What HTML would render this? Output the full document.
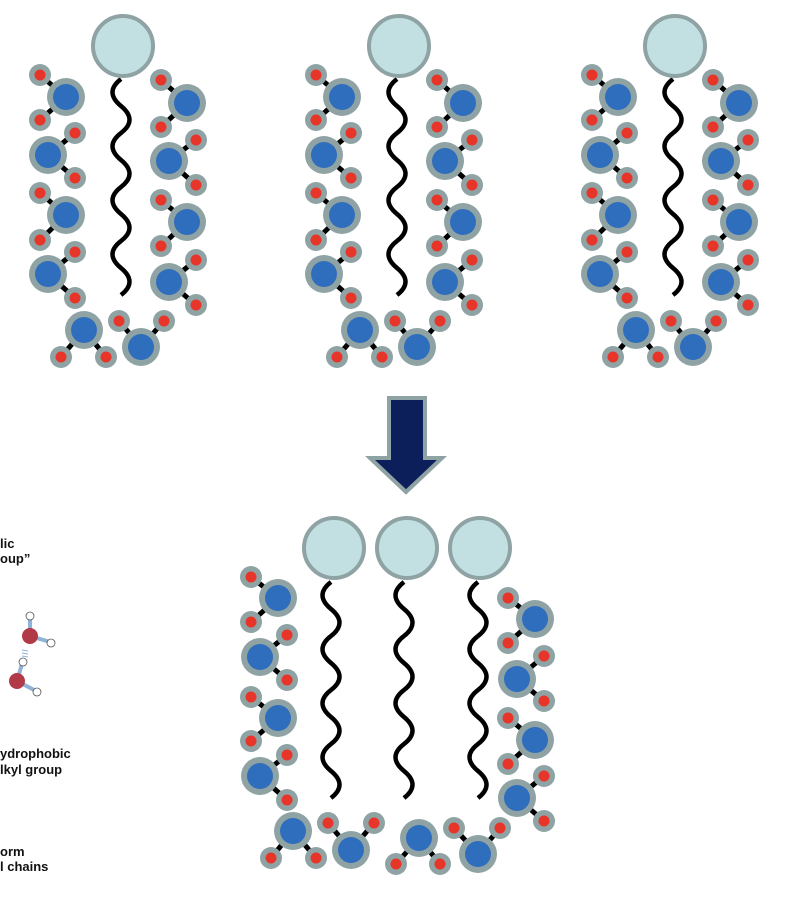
<!DOCTYPE html>
<html><head><meta charset="utf-8"><style>html,body{margin:0;padding:0;background:#fff}svg{display:block}text{font-family:"Liberation Sans",sans-serif;font-weight:bold;font-size:13px;fill:#111}</style></head>
<body>
<svg width="794" height="900" viewBox="0 0 794 900" xmlns="http://www.w3.org/2000/svg">
<defs>
<g id="o"><circle r="19" fill="#8fa3a4"/><circle r="13" fill="#2f6dbd"/></g>
<g id="h"><circle r="11" fill="#8fa3a4"/><circle r="5.5" fill="#e8352a"/></g>
<g id="head"><circle r="30" fill="#c2e0e2" stroke="#8fa3a4" stroke-width="4"/></g>
<path id="tail" d="M0,0 q-17,13 0,27 t0,27 t0,27 t0,27 t0,27 t0,27 t0,27 t0,27" fill="none" stroke="#000" stroke-width="4.5"/>
<g id="grp">
<g stroke="#000" stroke-width="5">
<path d="M66,97L40,75M66,97L40,120M48,155L75,133M48,155L75,178M66,215L40,193M66,215L40,240M48,274L75,252M48,274L75,298M187,103L161,80M187,103L161,127M169,161L196,140M169,161L196,185M187,222L161,200M187,222L161,246M169,282L196,260M169,282L196,305M84,330L61,357M84,330L106,357M141,347L119,321M141,347L164,321"/>
</g>
<use href="#o" x="66" y="97"/><use href="#h" x="40" y="75"/><use href="#h" x="40" y="120"/>
<use href="#o" x="48" y="155"/><use href="#h" x="75" y="133"/><use href="#h" x="75" y="178"/>
<use href="#o" x="66" y="215"/><use href="#h" x="40" y="193"/><use href="#h" x="40" y="240"/>
<use href="#o" x="48" y="274"/><use href="#h" x="75" y="252"/><use href="#h" x="75" y="298"/>
<use href="#o" x="187" y="103"/><use href="#h" x="161" y="80"/><use href="#h" x="161" y="127"/>
<use href="#o" x="169" y="161"/><use href="#h" x="196" y="140"/><use href="#h" x="196" y="185"/>
<use href="#o" x="187" y="222"/><use href="#h" x="161" y="200"/><use href="#h" x="161" y="246"/>
<use href="#o" x="169" y="282"/><use href="#h" x="196" y="260"/><use href="#h" x="196" y="305"/>
<use href="#o" x="84" y="330"/><use href="#h" x="61" y="357"/><use href="#h" x="106" y="357"/>
<use href="#o" x="141" y="347"/><use href="#h" x="119" y="321"/><use href="#h" x="164" y="321"/>
<use href="#tail" x="121" y="79"/>
<use href="#head" x="123" y="46"/>
</g>
</defs>

<use href="#grp" x="0" y="0"/>
<use href="#grp" x="276" y="0"/>
<use href="#grp" x="552" y="0"/>

<path d="M389,398 H425 V458 H442 L406,492 L370,458 H389 Z" fill="#0d1f5b" stroke="#8fa3a4" stroke-width="4" stroke-linejoin="miter"/>

<g stroke="#000" stroke-width="5">
<path d="M278,598L251,577M278,598L251,622M260,657L287,635M260,657L287,680M278,718L251,697M278,718L251,741M260,776L287,755M260,776L287,800M535,619L508,598M535,619L508,643M517,679L544,656M517,679L544,701M535,740L508,718M535,740L508,764M517,798L544,776M517,798L544,821M293,831L271,858M293,831L316,858M351,850L328,823M351,850L374,823M419,838L396,864M419,838L440,864M478,854L454,828M478,854L500,828"/>
</g>
<use href="#o" x="278" y="598"/><use href="#h" x="251" y="577"/><use href="#h" x="251" y="622"/>
<use href="#o" x="260" y="657"/><use href="#h" x="287" y="635"/><use href="#h" x="287" y="680"/>
<use href="#o" x="278" y="718"/><use href="#h" x="251" y="697"/><use href="#h" x="251" y="741"/>
<use href="#o" x="260" y="776"/><use href="#h" x="287" y="755"/><use href="#h" x="287" y="800"/>
<use href="#o" x="535" y="619"/><use href="#h" x="508" y="598"/><use href="#h" x="508" y="643"/>
<use href="#o" x="517" y="679"/><use href="#h" x="544" y="656"/><use href="#h" x="544" y="701"/>
<use href="#o" x="535" y="740"/><use href="#h" x="508" y="718"/><use href="#h" x="508" y="764"/>
<use href="#o" x="517" y="798"/><use href="#h" x="544" y="776"/><use href="#h" x="544" y="821"/>
<use href="#o" x="293" y="831"/><use href="#h" x="271" y="858"/><use href="#h" x="316" y="858"/>
<use href="#o" x="351" y="850"/><use href="#h" x="328" y="823"/><use href="#h" x="374" y="823"/>
<use href="#o" x="419" y="838"/><use href="#h" x="396" y="864"/><use href="#h" x="440" y="864"/>
<use href="#o" x="478" y="854"/><use href="#h" x="454" y="828"/><use href="#h" x="500" y="828"/>
<use href="#tail" x="331" y="582"/>
<use href="#tail" x="404" y="582"/>
<use href="#tail" x="478" y="582"/>
<use href="#head" x="334" y="548"/>
<use href="#head" x="407" y="548"/>
<use href="#head" x="480" y="548"/>

<text x="0" y="548">lic</text>
<text x="0" y="563">oup”</text>
<text x="0" y="758">ydrophobic</text>
<text x="0" y="774">lkyl group</text>
<text x="0" y="856">orm</text>
<text x="0" y="871">l chains</text>

<g stroke="#8fb4d8" stroke-width="4">
<line x1="30" y1="618" x2="30" y2="636"/><line x1="30" y1="636" x2="50" y2="642"/>
<line x1="22" y1="664" x2="17" y2="681"/><line x1="17" y1="681" x2="36" y2="691"/>
</g>
<g fill="#fff" stroke="#555" stroke-width="0.8">
<circle cx="30" cy="616" r="4"/><circle cx="51" cy="643" r="4"/>
<circle cx="23" cy="662" r="4"/><circle cx="37" cy="692" r="4"/>
</g>
<g stroke="#8fb4d8" stroke-width="1"><line x1="22" y1="650" x2="28" y2="651"/><line x1="22" y1="653" x2="28" y2="654"/><line x1="22" y1="656" x2="28" y2="657"/></g>
<circle cx="30" cy="636" r="8" fill="#b23a48"/>
<circle cx="17" cy="681" r="8" fill="#b23a48"/>
</svg>
</body></html>
